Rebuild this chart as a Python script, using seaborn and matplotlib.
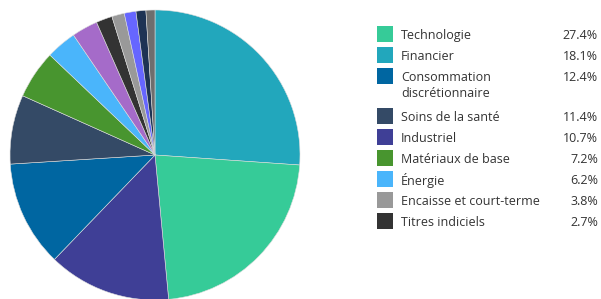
import matplotlib
matplotlib.use("Agg")
import matplotlib.pyplot as plt
from matplotlib.patches import Rectangle
import seaborn as sns

sns.set_theme(style="white")
plt.rcParams['font.family'] = ['Open Sans', 'DejaVu Sans']

# Pie slices (clockwise from 12 o'clock)
slice_values = [26.1, 22.4, 13.7, 11.8, 7.7, 5.4, 3.4, 2.9, 1.8, 1.4, 1.3, 1.1, 1.0]
slice_colors = ["#22A7BC", "#36CB98", "#3F3F96", "#0066A1", "#344A66", "#48952F",
                "#4AB5FB", "#A56BC9", "#333333", "#999999", "#6666FF", "#1E3354", "#6E6E6E"]

# Legend
legend_labels = ["Technologie", "Financier", "Consommation\ndiscrétionnaire", "Soins de la santé",
                 "Industriel", "Matériaux de base", "Énergie", "Encaisse et court-terme",
                 "Titres indiciels"]
legend_values = ["27.4%", "18.1%", "12.4%", "11.4%", "10.7%", "7.2%", "6.2%", "3.8%", "2.7%"]
legend_colors = ["#36CB98", "#22A7BC", "#0066A1", "#344A66", "#3F3F96", "#48952F",
                 "#4AB5FB", "#999999", "#333333"]

W, H = 601, 299
fig = plt.figure(figsize=(W / 100, H / 100), dpi=100)

# pie axes: center (155,155) px, radius 145 px
cx, cy, r = 155, 155, 145
ax = fig.add_axes([(cx - r) / W, (H - cy - r) / H, 2 * r / W, 2 * r / H])
ax.pie(slice_values, colors=slice_colors, startangle=90, counterclock=False,
       radius=1, wedgeprops=dict(edgecolor="#dddddd", linewidth=0.4))
ax.set_xlim(-1, 1)
ax.set_ylim(-1, 1)
ax.set_aspect("equal")
ax.axis("off")

# legend drawn in pixel coords
y = 34.0
box = 16
text_color = "#333333"
fs = 9.0
for lab, val, col in zip(legend_labels, legend_values, legend_colors):
    fig.patches.append(Rectangle((377 / W, (H - y - box / 2) / H), box / W, box / H,
                                 transform=fig.transFigure, facecolor=col, edgecolor="none"))
    lines = lab.split("\n")
    for i, ln in enumerate(lines):
        fig.text(401 / W, (H - y - i * 16.3) / H, ln, ha="left", va="center_baseline",
                 fontsize=fs, color=text_color)
    fig.text(598 / W, (H - y) / H, val, ha="right", va="center_baseline",
             fontsize=fs, color=text_color)
    y += 21.0 + 19.0 * (len(lines) - 1)

fig.savefig("out.png", dpi=100)
